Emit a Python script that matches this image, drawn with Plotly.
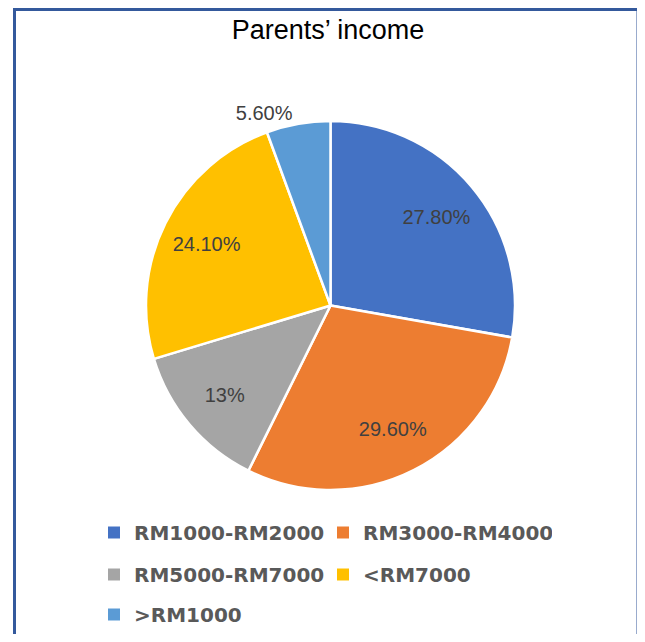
import plotly.graph_objects as go

OFF = 8  # page body margin offset
W, H = 645 - 2 * OFF, 642 - 2 * OFF

labels = ["RM1000-RM2000", "RM3000-RM4000", "RM5000-RM7000", "<RM7000", ">RM1000"]
values = [27.8, 29.6, 13.0, 24.1, 5.6]
value_text = ["27.80%", "29.60%", "13%", "24.10%", "5.60%"]
colors = ["#4472C4", "#ED7D31", "#A5A5A5", "#FFC000", "#5B9BD5"]
text_pos = ["inside", "inside", "inside", "inside", "outside"]
legend_rows = ["legend", "legend", "legend2", "legend2", "legend3"]


def px_x(v):
    return (v - OFF) / W


def px_y(v):
    return 1 - (v - OFF) / H


dom = dict(x=[px_x(146), px_x(515)], y=[px_y(491), px_y(121)])

fig = go.Figure()

# coloured slices
fig.add_trace(go.Pie(
    labels=labels, values=values, sort=False, direction="clockwise", rotation=0,
    marker=dict(colors=colors, line=dict(color="white", width=2.5)),
    textinfo="none", domain=dom, hoverinfo="skip", showlegend=False,
))

# data labels (ring-centred like the original)
fig.add_trace(go.Pie(
    labels=labels, values=values, sort=False, direction="clockwise", rotation=0,
    hole=0.5,
    text=value_text, texttemplate="%{text}", textposition=text_pos,
    insidetextorientation="horizontal",
    marker=dict(colors=["rgba(0,0,0,0)"] * len(values), line=dict(width=0)),
    textfont=dict(family="Liberation Sans", size=20, color="#404040"),
    domain=dom, hoverinfo="skip", showlegend=False,
))

# legend entries
for lab, col, lg in zip(labels, colors, legend_rows):
    fig.add_trace(go.Scatter(
        x=[None], y=[None], mode="markers", name=lab,
        marker=dict(symbol="square", size=12, color=col),
        legend=lg, showlegend=True, hoverinfo="skip",
    ))

leg_common = dict(
    orientation="h", xanchor="left", yanchor="top",
    entrywidth=184, entrywidthmode="pixels",
    font=dict(family="DejaVu Sans", size=20, color="#595959", weight="bold"),
    bgcolor="rgba(0,0,0,0)", traceorder="normal",
)

fig.update_layout(
    width=W, height=H,
    margin=dict(l=0, r=0, t=0, b=0),
    paper_bgcolor="white",
    plot_bgcolor="white",
    xaxis=dict(visible=False),
    yaxis=dict(visible=False),
    title=dict(text="Parents’ income", x=px_x(328), xanchor="center", y=px_y(30), yanchor="middle",
               font=dict(family="Liberation Sans", size=27, color="#000000")),
    legend=dict(x=px_x(94), y=px_y(513), **leg_common),
    legend2=dict(x=px_x(94), y=px_y(555), **leg_common),
    legend3=dict(x=px_x(94), y=px_y(596), **leg_common),
    shapes=[dict(type="rect", xref="paper", yref="paper",
                 x0=px_x(14.5), x1=px_x(638), y0=-0.1, y1=px_y(9.5),
                 line=dict(color="#34599C", width=3), fillcolor="rgba(0,0,0,0)")],
)

fig.write_html("out.html")
